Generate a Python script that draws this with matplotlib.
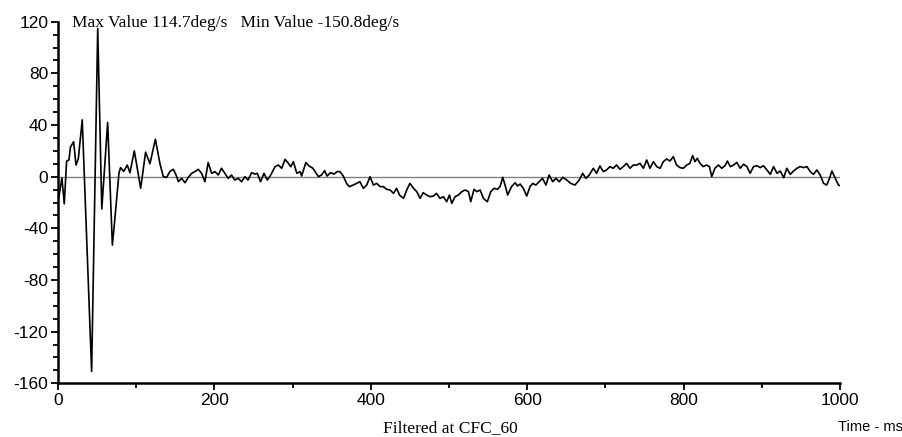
import matplotlib
matplotlib.use("Agg")
import matplotlib.pyplot as plt
from matplotlib.ticker import MultipleLocator

# Time (ms) and angular velocity (deg/s)
time_ms = [0, 5, 8, 11, 14, 16, 20, 23, 26, 31, 43, 50.8, 56, 63.5, 69.5, 72.5,
           78, 80, 84, 88.6, 92, 97.6, 105.7, 112, 117.6, 124.5, 130.4, 134.7, 139,
           143, 147.5, 151, 154, 158, 162.5, 166.6, 171, 175, 179.4, 183.6, 187.9,
           192, 196.5, 200.7, 205, 209, 213.4, 217.6, 221.9, 226, 230.5, 234.7, 239,
           243, 247.6, 251.8, 254.8, 259, 263.4, 267.7, 272, 277.5, 281.8, 286,
           290.4, 294.7, 297.7, 301, 305.4, 309.7, 311.5, 317, 321, 326, 333, 337,
           341, 344, 348.5, 352.8, 357, 360.5, 364.8, 369, 372.5, 377.6, 381.9, 386,
           390.5, 394.8, 399, 403.3, 407.6, 411.9, 416, 420.4, 424.6, 429, 433,
           436.7, 441.8, 446, 450, 454.6, 458.8, 463, 467, 471.5, 475.8, 480, 484,
           488.5, 492.8, 497, 500.6, 503.5, 507.8, 512, 516.4, 520.6, 524.9, 527.8,
           532, 535.5, 539.8, 544, 549, 553.4, 557.6, 561.9, 565.3, 568.7, 571.7,
           575, 580, 584.5, 587.5, 591, 595, 599.4, 603.6, 607, 611, 615.4, 619.6,
           624, 628, 632.6, 636.8, 641, 645.4, 650.5, 655.6, 661, 666.6, 671, 675,
           679.4, 684.5, 688.7, 693, 697.3, 701.5, 705.8, 710, 714.3, 718.6, 722.9,
           727, 731.5, 735.7, 740, 744.3, 748.6, 752.8, 757, 761.4, 765.6, 770, 774,
           778.4, 782.6, 786.8, 791, 795.4, 799.7, 804, 808, 811.6, 814.5, 817.5,
           821, 825, 829.4, 833, 836, 840, 844.5, 848.8, 853, 856, 859.7, 864, 868,
           872.4, 876.7, 881, 885, 889.5, 893.7, 898, 902, 906.6, 910.8, 915, 919.4,
           923.6, 928, 932, 936.4, 940.6, 945, 949, 953.5, 957.7, 962, 966, 970.4,
           974.7, 979, 983, 986.6, 989.6, 994, 998, 1000]
rate_dps = [-20, -1, -21, 12, 13, 23, 27, 9, 14, 44, -150.8, 114.7, -25, 42, -53, -34,
            3, 7, 4, 9, 3, 20, -9, 19, 10, 29, 10, 0, -0.5,
            4, 5.7, 1.3, -3.9, -1.3, -4.7, -0.5, 2.6, 3.9, 5.7, 2.6, -3.9,
            10.9, 2.6, 3.9, 1.3, 6.5, 2.6, -1.3, 1.3, -2.6, -1.3, -3.9, 0,
            -2.6, 3.1, 2, 2.6, -3.9, 2.6, -2.6, 1.3, 7.7, 9, 6.5,
            13.4, 10.3, 7.7, 11.6, 2.6, 3.9, 0.5, 10.9, 8.3, 6.5, 0, 1.3,
            4.7, 0.5, 3.1, 2, 3.9, 3.9, 0.5, -5.2, -7.7, -6.5, -5.2, -3.9,
            -9, -6.5, 0, -6.5, -5.2, -7.7, -7.7, -9.8, -10.3, -12.9, -9,
            -14.2, -16.8, -10.3, -5.2, -9, -11.6, -16.8, -12.4, -14.2, -15.5, -15, -12.9,
            -16.8, -15.5, -19.4, -14.2, -20.7, -15.5, -14.2, -11.6, -10.3, -11.6, -19.4,
            -9.8, -11.6, -10.3, -16.8, -19.4, -11.6, -9, -9.8, -7.7, -0.5, -6.5,
            -14.2, -7.7, -4.7, -7.2, -5.7, -9, -15, -7.7, -5.2, -6.5, -3.9, -1.3,
            -6.5, 1.3, -3.9, -1.3, -3.9, -0.5, -2.6, -5.2, -6.5, -2.6, 2.6, -1.3,
            1.3, 6.5, 2.6, 8.3, 3.9, 5.2, 7.8, 6.5, 9, 5.7, 7.8,
            10.3, 6.5, 9, 9, 10.3, 6.5, 12.9, 6.5, 11.6, 7.8, 6.5, 11.6,
            13.7, 12.1, 15.5, 9, 7, 6.5, 9, 10.3, 16.3, 11.6, 14.2,
            10.3, 7.8, 9, 7.8, 0, 6.5, 9, 6.5, 8.5, 12.1, 7.8, 9, 11.1,
            6.5, 9.6, 7.8, 2.6, 7.8, 8.5, 7, 8.5, 5.2, 1.8, 7.8, 2.6,
            4.4, -0.8, 6.5, 1.8, 4.4, 6.5, 7.8, 7, 7.8, 3.9, 1.8, 5.2,
            1.3, -5.2, -6.5, -1.3, 4.4, -1.3, -6.5, -7]

y_ticks = [-160, -120, -80, -40, 0, 40, 80, 120]
x_ticks = [0, 200, 400, 600, 800, 1000]
header = "Max Value 114.7deg/s   Min Value -150.8deg/s"
footer = "Filtered at CFC_60"
x_unit = "Time - ms"

fig = plt.figure(figsize=(9.02, 4.37), dpi=100)
ax = fig.add_axes([58 / 902, 1 - 383.3 / 437, (840 - 58) / 902, (383.3 - 21.7) / 437])

ax.axhline(0, color="#808080", lw=1.0, zorder=1)
ax.plot(time_ms, rate_dps, color="black", lw=1.2, zorder=2)

ax.set_xlim(0, 1000)
ax.set_ylim(-160, 120)
for s in ["top", "right"]:
    ax.spines[s].set_visible(False)
for s in ["left", "bottom"]:
    ax.spines[s].set_linewidth(1.8)

ax.set_xticks(x_ticks)
ax.set_yticks(y_ticks)
ax.set_yticklabels([str(v) for v in y_ticks])
ax.xaxis.set_minor_locator(MultipleLocator(100))
ax.yaxis.set_minor_locator(MultipleLocator(10))
ax.tick_params(which="major", length=5, width=1.3, labelsize=12.5, pad=2)
ax.tick_params(which="minor", length=3.5, width=1.3)
for lab in ax.get_xticklabels() + ax.get_yticklabels():
    lab.set_family("Liberation Sans")

fig.text(72 / 902, 1 - 27 / 437, header, family="Liberation Serif", fontsize=12.5,
         ha="left", va="baseline")
fig.text(450 / 902, 1 - 432 / 437, footer, family="Liberation Serif", fontsize=12.5,
         ha="center", va="baseline")
fig.text(838 / 902, 1 - 431 / 437, x_unit, family="Liberation Sans", fontsize=10.5,
         ha="left", va="baseline")

fig.savefig("out.png", dpi=100)
